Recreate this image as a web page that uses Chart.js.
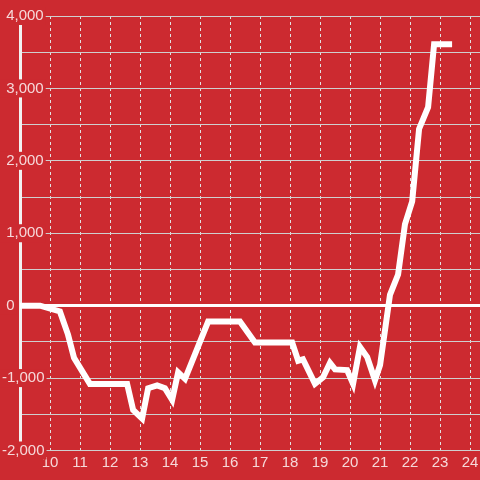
<!DOCTYPE html>
<html lang="en">
<head>
    <meta charset="utf-8" />
    <title>Line</title>
    <script src="https://cdnjs.cloudflare.com/ajax/libs/Chart.js/4.4.0/chart.umd.js"></script>
    <style>
        html, body { margin: 0; padding: 0; background: #cc2a30; }
        #wrap { width: 480px; height: 480px; position: relative; }
    </style>
</head>
<body>
    <div id="wrap"><canvas id="chart"></canvas></div>
    <script>
        // hour of day vs value
        const hours = [9, 9.67, 10.33, 10.6, 10.8, 11.33, 12.57, 12.77, 13.07, 13.27, 13.57, 13.83, 14.07, 14.27, 14.5,
            15.27, 16.33, 16.83, 18.07, 18.27, 18.43, 18.83, 19.1, 19.33, 19.5, 19.9, 20.1, 20.33, 20.57, 20.83, 21.0,
            21.33, 21.6, 21.83, 22.07, 22.3, 22.6, 22.8, 23.3];
        const values = [0, 0, -80, -400, -720, -1080, -1080, -1440, -1560, -1140, -1100, -1140, -1300, -920, -1010,
            -220, -220, -510, -510, -760, -740, -1080, -990, -790, -880, -890, -1080, -570, -710, -1030, -820,
            150, 430, 1125, 1440, 2440, 2740, 3610, 3610];

        const red = '#cc2a30';
        const labelColor = 'rgba(255,255,255,0.82)';

        Chart.defaults.font.family = '"Liberation Sans", Arial, sans-serif';
        Chart.defaults.font.size = 15;

        const ctx = document.getElementById('chart').getContext('2d');
        new Chart(ctx, {
            type: 'line',
            data: {
                datasets: [{
                    data: hours.map((h, i) => ({ x: h, y: values[i] })),
                    borderColor: '#ffffff',
                    borderWidth: 6,
                    borderJoinStyle: 'miter',
                    borderCapStyle: 'square',
                    pointRadius: 0,
                    tension: 0,
                    fill: false
                }]
            },
            options: {
                responsive: true,
                maintainAspectRatio: false,
                animation: false,
                layout: { padding: { top: 16, left: 2, right: 0, bottom: 4 } },
                plugins: { legend: { display: false }, tooltip: { enabled: false } },
                scales: {
                    x: {
                        type: 'linear',
                        min: 9,
                        max: 24.33,
                        grid: {
                            color: c => c.tick.value === 9 ? 'transparent' : '#e2e2e2',
                            lineWidth: 1,
                            drawTicks: false
                        },
                        border: { display: false, dash: [3, 3] },
                        ticks: {
                            stepSize: 1,
                            includeBounds: false,
                            autoSkip: false,
                            maxRotation: 0,
                            padding: 0,
                            color: labelColor,
                            font: { size: 15, lineHeight: 1.7 },
                            callback: v => v === 9 ? '' : v
                        }
                    },
                    y: {
                        min: -2000,
                        max: 4000,
                        // labels sit over the plot, so keep the axis box narrow
                        afterFit: s => { s.width = 18; },
                        grid: {
                            color: c => c.tick.value === 0 ? '#ffffff' : '#cfcfcf',
                            lineWidth: c => c.tick.value === 0 ? 3 : 1,
                            drawTicks: false
                        },
                        border: { display: true, color: '#f2f2f2', width: 3 },
                        ticks: {
                            stepSize: 500,
                            mirror: true,
                            padding: -18,
                            color: labelColor,
                            showLabelBackdrop: true,
                            backdropColor: c => c.tick.value % 1000 === 0 ? red : 'transparent',
                            backdropPadding: { top: 0, bottom: 0, left: 2, right: 2 },
                            callback: v => {
                                if (v % 1000 !== 0) return '';
                                const s = v.toLocaleString('en-US');
                                return v < 0 ? s : ' ' + s;
                            }
                        }
                    }
                }
            }
        });
    </script>
</body>
</html>
